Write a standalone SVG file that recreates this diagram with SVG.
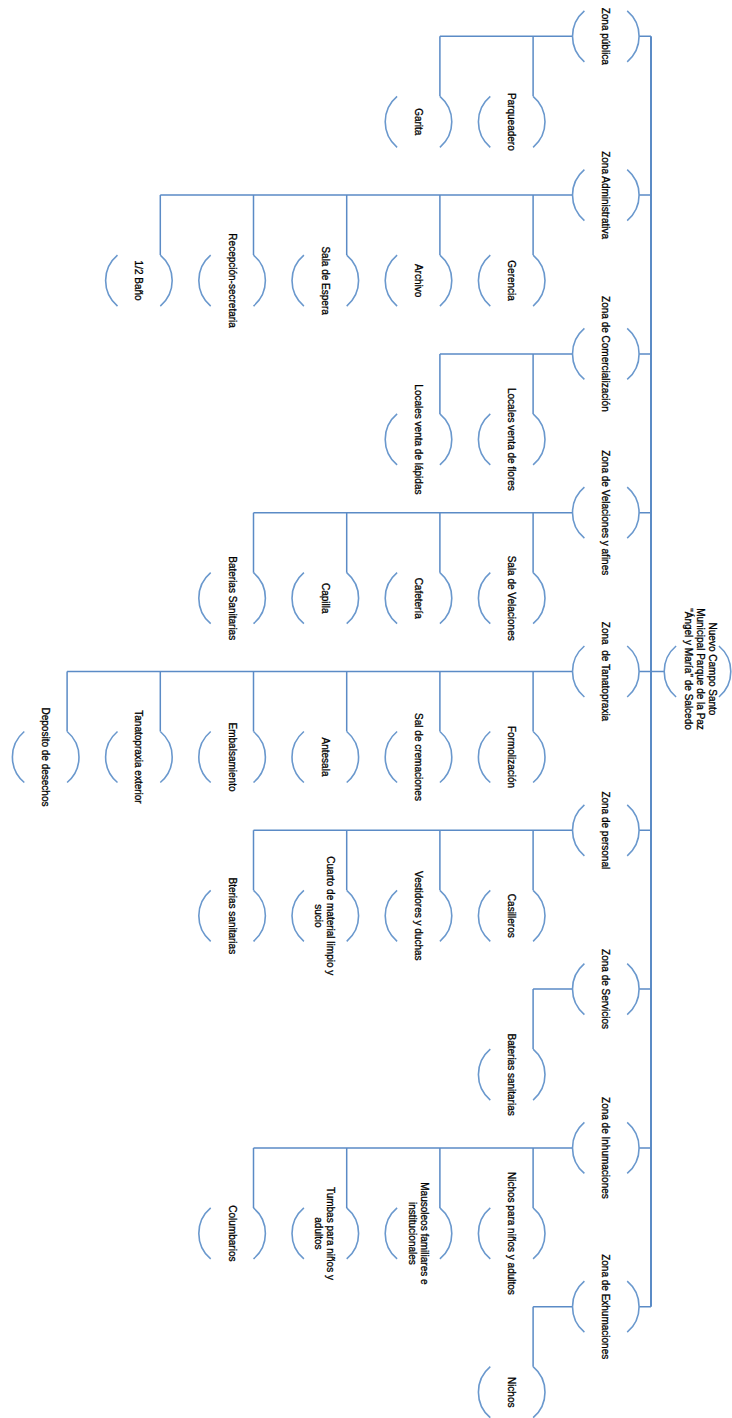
<svg xmlns="http://www.w3.org/2000/svg" xmlns:xlink="http://www.w3.org/1999/xlink" width="732" height="1418" viewBox="0 0 732 1418">
<style>
.arc{fill:none;stroke:#6a98cd;stroke-width:1.6}
.cn{fill:none;stroke:#5b8bc6;stroke-width:1.5}
.spine{fill:none;stroke:#5b8bc6;stroke-width:2}
text{font-family:"Liberation Sans",Arial,sans-serif;font-size:10px;fill:#000;stroke:#000;stroke-width:0.3;text-anchor:middle;dominant-baseline:central}
</style>
<defs>
<g id="ring">
<path class="arc" d="M-21.4 -25.5A33.3 33.3 0 0 0 -21.4 25.5"/>
<path class="arc" d="M21.4 -25.5A33.3 33.3 0 0 1 21.4 25.5"/>
</g>
</defs>
<rect width="732" height="1418" fill="#fff"/>
<g id="connectors">
<path class="spine" d="M651 36.3V1306.7"/>
<path class="cn" d="M639.1 36.3H651M639.1 195.1H651M639.1 353.9H651M639.1 512.7H651M639.1 671.5H664.2M639.1 830.3H651M639.1 989.1H651M639.1 1147.9H651M639.1 1306.7H651"/>
<path class="cn" d="M572.5 36.3H439.9M533.1 36.3V96.3M439.9 36.3V96.3"/>
<path class="cn" d="M572.5 195.1H160.3M533.1 195.1V255.1M439.9 195.1V255.1M346.7 195.1V255.1M253.5 195.1V255.1M160.3 195.1V255.1"/>
<path class="cn" d="M572.5 353.9H439.9M533.1 353.9V413.9M439.9 353.9V413.9"/>
<path class="cn" d="M572.5 512.7H253.5M533.1 512.7V572.7M439.9 512.7V572.7M346.7 512.7V572.7M253.5 512.7V572.7"/>
<path class="cn" d="M572.5 671.5H67.1M533.1 671.5V731.5M439.9 671.5V731.5M346.7 671.5V731.5M253.5 671.5V731.5M160.3 671.5V731.5M67.1 671.5V731.5"/>
<path class="cn" d="M572.5 830.3H253.5M533.1 830.3V890.3M439.9 830.3V890.3M346.7 830.3V890.3M253.5 830.3V890.3"/>
<path class="cn" d="M572.5 989.1H533.1M533.1 989.1V1049.1"/>
<path class="cn" d="M572.5 1147.9H253.5M533.1 1147.9V1207.9M439.9 1147.9V1207.9M346.7 1147.9V1207.9M253.5 1147.9V1207.9"/>
<path class="cn" d="M572.5 1306.7H533.1M533.1 1306.7V1366.7"/>
</g>
<g id="root"><use xlink:href="#ring" x="697.5" y="671.5"/><text transform="translate(701,669) rotate(90)"><tspan x="0" y="-12">Nuevo Campo Santo</tspan><tspan x="0" y="0">Municipal Parque de la Paz</tspan><tspan x="0" y="12">"Ángel y María" de Salcedo</tspan></text></g>

<g id="z1"><use xlink:href="#ring" x="605.8" y="36.3"/><text transform="translate(605.8,36.3) rotate(90)">Zona pública</text></g>
<g id="z1c1"><use xlink:href="#ring" x="511.7" y="121.8"/><text transform="translate(511.7,121.8) rotate(90)">Parqueadero</text></g>
<g id="z1c2"><use xlink:href="#ring" x="418.5" y="121.8"/><text transform="translate(418.5,121.8) rotate(90)">Garita</text></g>

<g id="z2"><use xlink:href="#ring" x="605.8" y="195.1"/><text transform="translate(605.8,195.1) rotate(90)">Zona Administrativa</text></g>
<g id="z2c1"><use xlink:href="#ring" x="511.7" y="280.6"/><text transform="translate(511.7,280.6) rotate(90)">Gerencia</text></g>
<g id="z2c2"><use xlink:href="#ring" x="418.5" y="280.6"/><text transform="translate(418.5,280.6) rotate(90)">Archivo</text></g>
<g id="z2c3"><use xlink:href="#ring" x="325.3" y="280.6"/><text transform="translate(325.3,280.6) rotate(90)">Sala de Espera</text></g>
<g id="z2c4"><use xlink:href="#ring" x="232.1" y="280.6"/><text transform="translate(232.1,280.6) rotate(90)">Recepción-secretaria</text></g>
<g id="z2c5"><use xlink:href="#ring" x="138.9" y="280.6"/><text transform="translate(138.9,280.6) rotate(90)">1/2 Baño</text></g>

<g id="z3"><use xlink:href="#ring" x="605.8" y="353.9"/><text transform="translate(605.8,353.9) rotate(90)">Zona de Comercialización</text></g>
<g id="z3c1"><use xlink:href="#ring" x="511.7" y="439.4"/><text transform="translate(511.7,439.4) rotate(90)">Locales venta de flores</text></g>
<g id="z3c2"><use xlink:href="#ring" x="418.5" y="439.4"/><text transform="translate(418.5,439.4) rotate(90)">Locales venta de lápidas</text></g>

<g id="z4"><use xlink:href="#ring" x="605.8" y="512.7"/><text transform="translate(605.8,512.7) rotate(90)">Zona de Velaciones y afines</text></g>
<g id="z4c1"><use xlink:href="#ring" x="511.7" y="598.2"/><text transform="translate(511.7,598.2) rotate(90)">Sala de Velaciones</text></g>
<g id="z4c2"><use xlink:href="#ring" x="418.5" y="598.2"/><text transform="translate(418.5,598.2) rotate(90)">Cafetería</text></g>
<g id="z4c3"><use xlink:href="#ring" x="325.3" y="598.2"/><text transform="translate(325.3,598.2) rotate(90)">Capilla</text></g>
<g id="z4c4"><use xlink:href="#ring" x="232.1" y="598.2"/><text transform="translate(232.1,598.2) rotate(90)">Baterias Sanitarias</text></g>

<g id="z5"><use xlink:href="#ring" x="605.8" y="671.5"/><text transform="translate(605.8,671.5) rotate(90)">Zona&#160; de Tanatopraxia</text></g>
<g id="z5c1"><use xlink:href="#ring" x="511.7" y="757"/><text transform="translate(511.7,757) rotate(90)">Formolización</text></g>
<g id="z5c2"><use xlink:href="#ring" x="418.5" y="757"/><text transform="translate(418.5,757) rotate(90)">Sal de cremaciones</text></g>
<g id="z5c3"><use xlink:href="#ring" x="325.3" y="757"/><text transform="translate(325.3,757) rotate(90)">Antesala</text></g>
<g id="z5c4"><use xlink:href="#ring" x="232.1" y="757"/><text transform="translate(232.1,757) rotate(90)">Embalsamiento</text></g>
<g id="z5c5"><use xlink:href="#ring" x="138.9" y="757"/><text transform="translate(138.9,757) rotate(90)">Tanatopraxia exterior</text></g>
<g id="z5c6"><use xlink:href="#ring" x="45.7" y="757"/><text transform="translate(45.7,757) rotate(90)">Deposito de desechos</text></g>

<g id="z6"><use xlink:href="#ring" x="605.8" y="830.3"/><text transform="translate(605.8,830.3) rotate(90)">Zona de personal</text></g>
<g id="z6c1"><use xlink:href="#ring" x="511.7" y="915.8"/><text transform="translate(511.7,915.8) rotate(90)">Casilleros</text></g>
<g id="z6c2"><use xlink:href="#ring" x="418.5" y="915.8"/><text transform="translate(418.5,915.8) rotate(90)">Vestidores y duchas</text></g>
<g id="z6c3"><use xlink:href="#ring" x="325.3" y="915.8"/><text transform="translate(325.3,915.8) rotate(90)"><tspan x="0" y="-6">Cuarto de material limpio y</tspan><tspan x="0" y="6">sucio</tspan></text></g>
<g id="z6c4"><use xlink:href="#ring" x="232.1" y="915.8"/><text transform="translate(232.1,915.8) rotate(90)">Bterias sanitarias</text></g>

<g id="z7"><use xlink:href="#ring" x="605.8" y="989.1"/><text transform="translate(605.8,989.1) rotate(90)">Zona de Servicios</text></g>
<g id="z7c1"><use xlink:href="#ring" x="511.7" y="1074.6"/><text transform="translate(511.7,1074.6) rotate(90)">Baterias sanitarias</text></g>

<g id="z8"><use xlink:href="#ring" x="605.8" y="1147.9"/><text transform="translate(605.8,1147.9) rotate(90)">Zona de Inhumaciones</text></g>
<g id="z8c1"><use xlink:href="#ring" x="511.7" y="1233.4"/><text transform="translate(511.7,1233.4) rotate(90)">Nichos para niños y adultos</text></g>
<g id="z8c2"><use xlink:href="#ring" x="418.5" y="1233.4"/><text transform="translate(418.5,1233.4) rotate(90)"><tspan x="0" y="-6">Mausoleos familiares e</tspan><tspan x="0" y="6">institucionales</tspan></text></g>
<g id="z8c3"><use xlink:href="#ring" x="325.3" y="1233.4"/><text transform="translate(325.3,1233.4) rotate(90)"><tspan x="0" y="-6">Tumbas para niños y</tspan><tspan x="0" y="6">adultos</tspan></text></g>
<g id="z8c4"><use xlink:href="#ring" x="232.1" y="1233.4"/><text transform="translate(232.1,1233.4) rotate(90)">Columbarios</text></g>

<g id="z9"><use xlink:href="#ring" x="605.8" y="1306.7"/><text transform="translate(605.8,1306.7) rotate(90)">Zona de Exhumaciones</text></g>
<g id="z9c1"><use xlink:href="#ring" x="511.7" y="1392.2"/><text transform="translate(511.7,1392.2) rotate(90)">Nichos</text></g>
</svg>
